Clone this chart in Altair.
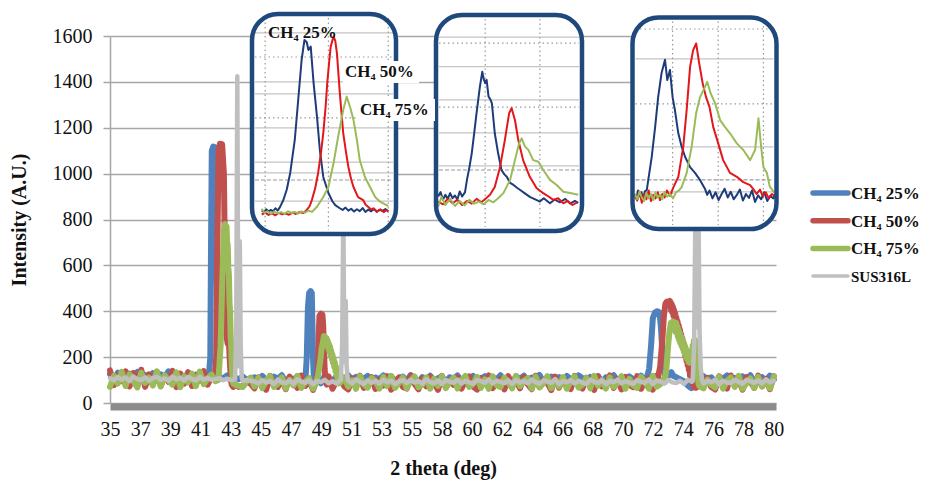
import altair as alt
import numpy as np
import pandas as pd

# ---------------- data ----------------
SERIES = ["CH₄ 25%", "CH₄ 50%", "CH₄ 75%", "SUS316L"]
COLORS = ["#4F81BD", "#C0504D", "#9BBB59", "#BFBFBF"]
INSET_COLORS = ["#1F3C7A", "#E3161B", "#9BBB59"]
XLABELS = [35, 37, 39, 41, 43, 45, 47, 49, 51, 53, 55, 58, 60, 62, 64, 66, 68, 70, 72, 74, 76, 78, 80]
YTICKS = [0, 200, 400, 600, 800, 1000, 1200, 1400, 1600]

# noisy baselines sampled evenly from 35 to 80 deg
BASE_BLUE = [126,104,132,112,96,128,118,135,100,122,108,130,97,125,114,138,102,119,127,99,133,110,124,105,129,116,121,
             118,112,108,120,96,110,104,115,100,108,
             112,95,118,102,88,115,106,121,93,110,99,117,90,108,120,97,113,86,119,104,
             96,116,109,91,122,100,114,94,107,118,89,111,103,120,95,117,92,109,115,98,
             121,105,90,113,101,119,96,108,116,87,112,104,120,93,110,99,118,94,106,117,
             91,114,102,121,97,109,88,116,105,119,95,111,100,122,92,107,115,98,113,89,
             118,103,96,120,108,94,114,101,117,90,112,106,121,97,110,93,116,104,88,119,
             99,113,107,120,95,111,102,118,91,109,115,96,122,105,93,117,100,112,89,114,
             106,120,98,110,94,116,103,121,92,108,113,97,119,101]
BASE_RED = [142,78,120,95,138,72,131,88,145,70,125,100,136,76,118,92,140,69,128,84,134,74,122,97,139,80,115,
            108,118,95,112,100,80,70,75,90,85,
            64,112,78,58,118,85,70,104,60,115,92,66,120,74,98,57,110,82,68,116,
            62,96,114,72,59,108,88,119,66,80,113,61,102,76,117,58,94,111,70,63,
            120,84,60,106,73,115,90,57,118,68,100,79,112,62,96,116,71,58,109,86,
            120,65,92,104,59,117,75,98,64,113,82,60,119,70,101,88,56,115,67,107,
            93,61,118,78,63,110,99,57,116,72,85,120,66,103,59,114,80,69,117,62,
            95,108,58,119,74,90,64,112,100,57,115,83,68,118,61,97,109,70,59,116,
            87,63,120,76,102,58,113,94,66,119,72,105,60,117]
BASE_GREEN = [70,118,85,136,74,125,95,68,132,88,110,76,138,72,121,99,80,134,69,116,90,128,73,137,82,107,124,
              95,70,85,72,90,80,75,70,95,110,
              72,110,65,98,117,70,84,112,63,101,76,118,66,93,108,62,115,79,68,104,
              116,64,89,113,71,100,62,117,82,67,109,95,63,114,74,118,66,88,111,64,
              97,116,69,80,112,62,106,75,117,65,92,110,63,99,118,70,84,114,66,103,
              62,116,78,69,111,90,64,118,73,96,108,63,115,68,86,117,65,101,72,113,
              62,94,116,67,80,110,64,118,75,99,63,112,70,88,117,62,105,77,66,114,
              92,63,118,71,83,109,65,116,74,97,62,113,68,89,117,64,102,79,67,115,
              63,95,111,70,118,62,86,107,66,114,73,98,64,116]
BASE_GRAY = [108,99,113,102,111,96,115,104,100,112,98,109,114,101,107,97,115,103,110,99,113,105,98,114,102,109,101,
             104,108,99,106,100,104,101,97,99,97,
             93,86,100,89,96,83,102,90,87,98,84,103,93,88,99,82,97,91,101,86,
             95,84,100,89,97,85,103,92,83,99,88,96,85,102,90,98,82,94,100,87,
             101,89,96,84,103,91,86,98,83,100,93,88,102,85,96,90,84,100,95,88,
             103,85,97,92,87,99,82,101,89,96,86,102,91,84,98,94,88,103,83,96,
             90,100,85,97,89,83,101,93,87,99,82,96,91,102,86,95,89,84,100,92,
             88,103,83,98,94,85,100,90,87,97,83,101,93,88,99,85,96,91,102,82,
             97,89,86,100,92,84,101,95,88,98,85,103,90,97]

# diffraction peaks (deg, intensity)
PEAKS_BLUE = [
    [(41.7,115),(41.8,200),(41.85,700),(41.9,1100),(42.0,1118),(42.12,1115),(42.2,900),(42.26,400),
     (42.32,150),(42.4,110)],
    [(48.25,105),(48.34,200),(48.42,420),(48.5,480),(48.6,488),(48.68,480),(48.72,350),(48.76,200),
     (48.82,110),(48.9,100)],
    [(71.4,110),(71.55,150),(71.68,250),(71.8,370),(71.95,395),(72.1,400),(72.25,395),(72.35,330),(72.45,220),
     (72.55,140),(72.7,110),(72.9,120),(73.05,135),(73.2,118),(73.4,112),(73.6,105),(73.9,95),(74.2,75),
     (74.4,65),(74.55,80),(74.7,100)],
]
PEAKS_RED = [
    [(42.1,110),(42.2,200),(42.28,700),(42.36,1100),(42.45,1130),(42.6,1128),(42.72,1000),(42.8,600),
     (42.88,300),(42.97,260),(43.07,250),(43.15,150),(43.25,80),(43.35,70)],
    [(49.0,100),(49.1,150),(49.15,300),(49.2,380),(49.3,390),(49.4,385),(49.45,340),(49.5,250),(49.55,150),
     (49.62,90),(49.7,80)],
    [(72.15,110),(72.3,160),(72.45,280),(72.55,380),(72.65,432),(72.75,442),(72.85,438),(72.95,445),
     (73.0,440),(73.04,405),(73.08,432),(73.12,395),(73.16,420),(73.2,380),(73.24,405),(73.28,362),
     (73.32,390),(73.36,345),(73.4,372),(73.44,330),(73.48,355),(73.52,312),(73.56,338),(73.6,295),
     (73.64,320),(73.68,278),(73.72,300),(73.76,260),(73.8,282),(73.84,242),(73.88,265),(73.92,225),
     (73.96,248),(74.0,205),(74.04,230),(74.08,185),(74.12,208),(74.16,165),(74.2,185),(74.24,145),
     (74.28,160),(74.32,120),(74.38,130),(74.44,95),(74.5,85),(74.6,68),(74.72,66),(74.85,72),(74.95,85),
     (75.05,100)],
]
PEAKS_GREEN = [
    [(42.35,100),(42.5,250),(42.62,550),(42.72,750),(42.8,780),(42.86,760),(42.9,770),(42.94,700),
     (42.98,690),(43.02,590),(43.06,560),(43.1,440),(43.14,400),(43.18,290),(43.22,250),(43.26,160),
     (43.3,120),(43.36,85)],
    [(48.95,85),(49.1,120),(49.25,180),(49.35,240),(49.45,270),(49.5,292),(49.55,272),(49.6,288),
     (49.64,262),(49.68,282),(49.72,250),(49.76,272),(49.8,238),(49.84,258),(49.88,222),(49.92,245),
     (49.96,208),(50.0,228),(50.04,192),(50.08,212),(50.12,175),(50.16,195),(50.2,158),(50.24,178),
     (50.28,140),(50.32,158),(50.36,120),(50.4,130),(50.45,95),(50.52,85)],
    [(72.6,90),(72.72,150),(72.85,260),(72.94,320),(72.98,330),(73.02,350),(73.06,320),(73.1,352),
     (73.14,330),(73.18,355),(73.22,325),(73.26,348),(73.3,345),(73.34,310),(73.38,350),(73.42,305),
     (73.46,335),(73.5,290),(73.54,320),(73.58,275),(73.62,305),(73.66,262),(73.7,292),(73.74,250),
     (73.78,282),(73.82,238),(73.86,268),(73.9,225),(73.94,255),(73.98,212),(74.02,242),(74.06,200),
     (74.1,230),(74.14,190),(74.18,220),(74.22,180),(74.26,210),(74.3,175),(74.34,205),(74.38,185),
     (74.42,225),(74.46,205),(74.5,250),(74.54,235),(74.58,270),(74.62,250),(74.66,275),(74.7,255),
     (74.74,260),(74.78,200),(74.82,160),(74.86,110),(74.9,85),(74.95,75),(75.05,70)],
]
PEAKS_GRAY = [
    [(43.48,105),(43.56,350),(43.63,1425),(43.69,400),(43.74,160),(43.8,705),(43.86,250),(43.93,110)],
    [(50.65,100),(50.74,260),(50.82,850),(50.88,230),(50.92,180),(50.98,445),(51.04,160),(51.12,100)],
    [(74.5,95),(74.6,250),(74.68,800),(74.76,350),(74.82,330),(74.9,800),(74.97,300),(75.05,150),(75.14,100)],
]

# zoomed insets (deg, intensity), one list per series
INSET1 = [
    [(41.48,105),(41.52,95),(41.56,112),(41.6,98),(41.64,108),(41.68,100),(41.72,118),(41.76,104),(41.8,125),
     (41.86,167),(41.92,230),(41.98,329),(42.06,526),(42.12,765),(42.18,1004),(42.23,1124),(42.27,1110),
     (42.3,1064),(42.34,1084),(42.39,867),(42.45,664),(42.5,466),(42.56,305),(42.65,209),(42.72,160),
     (42.77,137),(42.85,118),(42.9,108),(42.95,122),(43.0,104),(43.05,115),(43.1,98),(43.15,112),(43.2,101),
     (43.25,119),(43.3,96),(43.35,110),(43.4,100),(43.45,114),(43.5,97),(43.55,108),(43.6,102),(43.65,113),
     (43.7,99)],
    [(41.48,80),(41.54,92),(41.6,78),(41.66,88),(41.72,76),(41.78,90),(41.84,82),(41.9,86),(41.96,79),
     (42.02,92),(42.08,84),(42.14,95),(42.21,90),(42.27,108),(42.32,130),(42.36,167),(42.42,240),(42.47,329),
     (42.52,450),(42.56,567),(42.6,720),(42.63,867),(42.66,980),(42.69,1084),(42.74,1144),(42.77,1120),
     (42.8,1044),(42.85,807),(42.91,567),(42.96,450),(43.0,365),(43.05,290),(43.09,245),(43.17,185),
     (43.26,167),(43.3,140),(43.35,126),(43.4,110),(43.44,118),(43.5,98),(43.56,112),(43.62,95),(43.67,108),
     (43.7,100)],
    [(41.48,115),(41.53,90),(41.58,100),(41.64,85),(41.7,98),(41.76,88),(41.82,95),(41.88,84),(41.94,100),
     (42.0,90),(42.06,96),(42.12,86),(42.18,99),(42.24,92),(42.3,104),(42.36,96),(42.45,127),(42.56,185),
     (42.65,245),(42.74,388),(42.82,544),(42.91,705),(42.97,785),(43.03,723),(43.09,646),(43.15,526),
     (43.2,406),(43.29,305),(43.38,245),(43.47,185),(43.56,156),(43.67,137),(43.7,130)],
]
INSET2 = [
    [(47.95,125),(48.0,138),(48.05,115),(48.1,130),(48.15,118),(48.2,135),(48.25,120),(48.3,128),(48.35,116),
     (48.4,140),(48.45,125),(48.51,138),(48.55,174),(48.6,210),(48.65,252),(48.7,310),(48.75,370),(48.82,448),
     (48.87,492),(48.9,470),(48.93,458),(48.96,468),(49.0,419),(49.04,410),(49.07,399),(49.13,311),(49.2,252),
     (49.27,203),(49.33,190),(49.38,183),(49.45,165),(49.52,159),(49.6,150),(49.66,144),(49.75,135),
     (49.86,124),(49.95,118),(50.07,110),(50.15,120),(50.28,105),(50.38,116),(50.49,108),(50.6,118),
     (50.7,104),(50.8,112),(50.87,106)],
    [(47.95,110),(48.05,102),(48.15,118),(48.25,105),(48.35,115),(48.45,100),(48.55,112),(48.65,104),
     (48.75,118),(48.85,108),(48.95,120),(49.03,130),(49.13,153),(49.24,212),(49.34,291),(49.43,370),
     (49.48,385),(49.55,350),(49.62,291),(49.72,232),(49.86,183),(50.0,150),(50.07,142),(50.14,135),
     (50.25,125),(50.35,115),(50.45,120),(50.56,105),(50.65,112),(50.75,100),(50.85,108)],
    [(47.95,95),(48.02,124),(48.1,100),(48.2,118),(48.3,97),(48.4,112),(48.5,99),(48.6,115),(48.7,104),
     (48.8,110),(48.9,102),(49.0,115),(49.1,108),(49.2,120),(49.31,135),(49.45,174),(49.55,232),(49.64,282),
     (49.69,296),(49.76,272),(49.83,262),(49.93,232),(50.04,227),(50.14,203),(50.28,174),(50.42,159),
     (50.56,139),(50.7,135),(50.87,130)],
]
INSET3 = [
    [(71.16,100),(71.2,90),(71.24,108),(71.29,95),(71.33,104),(71.38,88),(71.42,106),(71.47,109),(71.51,132),
     (71.6,184),(71.69,252),(71.77,320),(71.86,375),(71.95,405),(72.01,359),(72.08,382),(72.15,320),
     (72.21,291),(72.3,238),(72.39,207),(72.48,184),(72.61,161),(72.74,148),(72.87,132),(73.0,112),
     (73.06,98),(73.12,108),(73.2,90),(73.28,104),(73.36,86),(73.44,100),(73.52,112),(73.6,92),(73.68,105),
     (73.76,88),(73.84,98),(73.92,110),(74.0,85),(74.08,100),(74.16,91),(74.24,108),(74.32,82),(74.4,97),
     (74.48,88),(74.56,104),(74.64,84),(74.72,96),(74.8,90),(74.85,100)],
    [(71.16,95),(71.22,85),(71.28,105),(71.34,80),(71.4,100),(71.46,88),(71.52,108),(71.58,84),(71.64,98),
     (71.7,90),(71.76,104),(71.82,86),(71.88,100),(71.94,92),(72.0,108),(72.08,96),(72.17,115),(72.3,139),
     (72.43,207),(72.52,291),(72.61,389),(72.69,427),(72.77,442),(72.85,397),(72.94,352),(73.03,320),
     (73.12,298),(73.22,252),(73.35,215),(73.48,177),(73.66,148),(73.84,139),(74.01,127),(74.19,120),
     (74.3,108),(74.36,100),(74.45,110),(74.52,95),(74.6,104),(74.68,90),(74.76,100),(74.85,95)],
    [(71.16,100),(71.22,88),(71.28,106),(71.34,92),(71.4,84),(71.46,102),(71.52,90),(71.58,100),(71.64,86),
     (71.7,104),(71.76,92),(71.82,98),(71.88,88),(71.94,105),(72.0,94),(72.08,100),(72.16,90),(72.24,104),
     (72.32,108),(72.39,116),(72.52,148),(72.65,207),(72.77,284),(72.87,320),(73.0,343),(73.06,355),
     (73.15,329),(73.27,306),(73.4,268),(73.53,252),(73.66,238),(73.84,215),(74.01,200),(74.19,177),
     (74.32,200),(74.41,272),(74.47,215),(74.54,161),(74.63,148),(74.71,116),(74.84,102)],
]
INSET_LABELS = ["CH₄ 25%", "CH₄ 50%", "CH₄ 75%"]

# inset grid levels (inset units)
INSET1_GRID = dict(solid=[161, 329, 394, 598, 801, 873, 1166], dotted=[658, 1022], dashed=[287],
                   vert=[41.54, 42.65, 43.70])
INSET2_GRID = dict(solid=[215, 312, 409, 507, 594], dotted=[388, 576], dashed=[203], vert=[48.93, 50.07])
INSET3_GRID = dict(solid=[105, 207, 407], dotted=[305, 475], dashed=[132], vert=[72.15, 73.35, 74.54])

# ---------------- layout (pixels, relative to plot origin) ----------------
W, H = 666, 367
FONT = "Liberation Serif"
BOX1 = (142, 286, -22, 198)
BOX2 = (326, 472, -21, 195)
BOX3 = (522.5, 666.5, -18.5, 193)
LINE_WIDTHS = [6, 6, 6, 4.5]
LEGEND_X, LEGEND_Y0, LEGEND_DY, LEGEND_LEN = 703, 157, 27.7, 35
LEGEND_SYMBOL_WIDTHS = [5.5, 5.5, 5.5, 3.5]
LEGEND_FONT_SIZES = [17, 17, 17, 15]


def build_series(name, base, peaks):
    xs = np.linspace(35, 80, len(base))
    spans = [(p[0][0], p[-1][0]) for p in peaks]
    rows = [(x, y) for x, y in zip(xs, base) if not any(a <= x <= b for a, b in spans)]
    for p in peaks:
        rows.extend(p)
    rows.sort()
    df = pd.DataFrame(rows, columns=["x", "y"])
    df["series"] = name
    return df


main_df = pd.concat([
    build_series(SERIES[0], BASE_BLUE, PEAKS_BLUE),
    build_series(SERIES[1], BASE_RED, PEAKS_RED),
    build_series(SERIES[2], BASE_GREEN, PEAKS_GREEN),
    build_series(SERIES[3], BASE_GRAY, PEAKS_GRAY),
], ignore_index=True)

step = (80 - 35) / (len(XLABELS) - 1)
label_expr = "[" + ",".join(f"'{v}'" for v in XLABELS) + f"][round((datum.value - 35) / {step})]"

x_axis = alt.Axis(values=[35 + i * step for i in range(len(XLABELS))], labelExpr=label_expr,
                  title="2 theta (deg)", ticks=False, grid=False, domainColor="#8C8C8C", domainWidth=7,
                  offset=3.5, labelPadding=13, labelFont=FONT, labelFontSize=20, labelColor="#111111",
                  titleFont=FONT, titleFontSize=20, titleFontWeight="bold", titleColor="#111111",
                  titlePadding=19, labelFlush=False, labelOverlap=False)
y_axis = alt.Axis(values=YTICKS, format="d", title="Intensity (A.U.)", grid=True, gridColor="#A6A6A6",
                  gridWidth=1.5, domainColor="#A6A6A6", domainWidth=1.5, tickColor="#A6A6A6", tickSize=7,
                  tickWidth=1.5, labelPadding=11, labelFont=FONT, labelFontSize=20, labelColor="#111111",
                  titleFont=FONT, titleFontSize=20, titleFontWeight="bold", titleColor="#111111",
                  titlePadding=23)

x_scale = alt.Scale(domain=[35, 80.15], nice=False, zero=False)
y_scale = alt.Scale(domain=[0, 1600], nice=False)
color_enc = alt.Color("series:N", scale=alt.Scale(domain=SERIES, range=COLORS), legend=None)

main_layers = []
for s, w in zip(SERIES, LINE_WIDTHS):
    main_layers.append(
        alt.Chart(main_df).transform_filter(alt.datum.series == s)
        .mark_line(strokeWidth=w, strokeJoin="round", strokeCap="round")
        .encode(x=alt.X("x:Q", scale=x_scale, axis=x_axis),
                y=alt.Y("y:Q", scale=y_scale, axis=y_axis),
                color=color_enc)
    )
main = alt.layer(*main_layers)

one = pd.DataFrame({"k": [0]})


def inset(data, xdom, xrange_, ydom, yrange_, box, grid):
    l, r, t, b = box
    xs = alt.Scale(domain=xdom, range=xrange_, nice=False, zero=False)
    ys = alt.Scale(domain=ydom, range=yrange_, nice=False, zero=False)
    rows = []
    for name, pts in zip(SERIES[:3], data):
        for x, y in pts:
            rows.append({"x": x, "y": y, "series": name})
    df = pd.DataFrame(rows)
    fill = alt.Chart(one).mark_rect(cornerRadius=26, fill="white", strokeWidth=0).encode(
        x=alt.value(l), x2=alt.value(r), y=alt.value(t), y2=alt.value(b))
    solid = alt.Chart(pd.DataFrame({"v": grid["solid"]})).mark_rule(color="#C4C4C4", strokeWidth=1.3).encode(
        y=alt.Y("v:Q", scale=ys, axis=None), x=alt.value(l + 3), x2=alt.value(r - 3))
    dotted = alt.Chart(pd.DataFrame({"v": grid["dotted"]})).mark_rule(
        color="#9A9A9A", strokeWidth=1.2, strokeDash=[1.5, 3]).encode(
        y=alt.Y("v:Q", scale=ys, axis=None), x=alt.value(l + 3), x2=alt.value(r - 3))
    dashed = alt.Chart(pd.DataFrame({"v": grid["dashed"]})).mark_rule(
        color="#9A9A9A", strokeWidth=1.2, strokeDash=[4, 2]).encode(
        y=alt.Y("v:Q", scale=ys, axis=None), x=alt.value(l + 3), x2=alt.value(r - 3))
    vert = alt.Chart(pd.DataFrame({"d": grid["vert"]})).mark_rule(
        color="#9A9A9A", strokeWidth=1.2, strokeDash=[1.5, 3]).encode(
        x=alt.X("d:Q", scale=xs, axis=None), y=alt.value(t + 4), y2=alt.value(b - 4))
    lines = alt.Chart(df).mark_line(strokeWidth=2, strokeJoin="round").encode(
        x=alt.X("x:Q", scale=xs, axis=None), y=alt.Y("y:Q", scale=ys, axis=None),
        color=alt.Color("series:N", scale=alt.Scale(domain=SERIES[:3], range=INSET_COLORS), legend=None))
    border = alt.Chart(one).mark_rect(cornerRadius=26, fillOpacity=0, fill="white", stroke="#1F497D",
                                      strokeWidth=4.5).encode(
        x=alt.value(l), x2=alt.value(r), y=alt.value(t), y2=alt.value(b))
    return alt.layer(fill, solid, dotted, dashed, vert, lines, border)


inset1 = inset(INSET1, [41.45, 43.72], [150, 279.4], [0, 1200], [192, -8.8], BOX1, INSET1_GRID)
inset2 = inset(INSET2, [47.93, 50.9], [327.2, 469.7], [0, 600], [203, -1], BOX2, INSET2_GRID)
inset3 = inset(INSET3, [71.15, 74.86], [524.6, 665.6], [0, 500], [202, -18], BOX3, INSET3_GRID)

label_pos = [(158, -3), (235, 36), (250, 74)]
label_bg = [None, (233, 309, 25, 47), (248, 325, 63, 85)]
label_layers = []
for txt, (px, py), bg in zip(INSET_LABELS, label_pos, label_bg):
    if bg is not None:
        label_layers.append(alt.Chart(one).mark_rect(fill="white").encode(
            x=alt.value(bg[0]), x2=alt.value(bg[1]), y=alt.value(bg[2]), y2=alt.value(bg[3])))
    label_layers.append(alt.Chart(one).mark_text(
        text=txt, align="left", baseline="middle", font=FONT, fontSize=17, fontWeight="bold",
        color="#111111").encode(x=alt.value(px), y=alt.value(py)))

# legend (series names and colours)
for i, (name, col) in enumerate(zip(SERIES, COLORS)):
    yy = LEGEND_Y0 + i * LEGEND_DY
    label_layers.append(alt.Chart(one).mark_rule(
        color=col, strokeWidth=LEGEND_SYMBOL_WIDTHS[i], strokeCap="round").encode(
        x=alt.value(LEGEND_X), x2=alt.value(LEGEND_X + LEGEND_LEN), y=alt.value(yy)))
    label_layers.append(alt.Chart(one).mark_text(
        text=name, align="left", baseline="middle", font=FONT, fontSize=LEGEND_FONT_SIZES[i],
        fontWeight="bold", color="#111111").encode(x=alt.value(LEGEND_X + LEGEND_LEN + 3), y=alt.value(yy + 1)))
labels = alt.layer(*label_layers)

chart = alt.layer(main, inset1, inset2, inset3, labels).resolve_scale(
    x="independent", y="independent", color="independent"
).properties(
    width=W, height=H,
    padding={"left": 110, "top": 36, "right": 153, "bottom": 82},
    autosize=alt.AutoSizeParams(type="none"),
    background="white",
).configure_view(strokeWidth=0)

chart.save("out.html", embed_options={"renderer": "svg", "actions": False})
